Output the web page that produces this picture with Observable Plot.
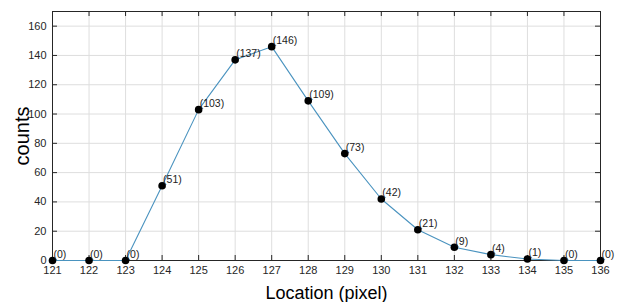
<!DOCTYPE html>
<html><head><meta charset="utf-8">
<script src="https://cdn.jsdelivr.net/npm/d3@7"></script>
<script src="https://cdn.jsdelivr.net/npm/@observablehq/plot@0.6"></script>
<style>
body{margin:0;background:#fff;}
svg{font-family:"Liberation Sans",Arial,sans-serif;}
g[aria-label="y-axis label"] text{font-size:20px;fill:#000;}
g[aria-label="x-axis label"] text{font-size:18px;fill:#000;}
</style>
</head><body>
<div id="chart"></div>
<script>
const locations = [121,122,123,124,125,126,127,128,129,130,131,132,133,134,135,136];
const counts = [0,0,0,51,103,137,146,109,73,42,21,9,4,1,0,0];
const xTicks = locations;
const yTicks = [0,20,40,60,80,100,120,140,160];

const data = locations.map((x,i)=>({x, y: counts[i]}));
const plotH = 302-11-42, plotW = 627-52-27;
const tyLen = 170*5/plotH, txLen = 15*5/plotW;

const chart = Plot.plot({
  width: 627, height: 302,
  marginLeft: 52, marginRight: 27, marginTop: 11, marginBottom: 42,
  style: {background:"#fff", fontSize:"11px", color:"#262626"},
  x: {domain:[121,136]},
  y: {domain:[0,170]},
  marks: [
    Plot.ruleX(xTicks, {x: d=>d, y1:0, y2:170, stroke:"#dedede", strokeWidth:1, strokeOpacity:1}),
    Plot.ruleY(yTicks, {y: d=>d, x1:121, x2:136, stroke:"#dedede", strokeWidth:1, strokeOpacity:1}),
    Plot.frame({stroke:"#262626", strokeWidth:1}),
    Plot.ruleX(xTicks, {x: d=>d, y1:0, y2:tyLen, stroke:"#262626"}),
    Plot.ruleX(xTicks, {x: d=>d, y1:170-tyLen, y2:170, stroke:"#262626"}),
    Plot.ruleY(yTicks, {y: d=>d, x1:121, x2:121+txLen, stroke:"#262626"}),
    Plot.ruleY(yTicks, {y: d=>d, x1:136-txLen, x2:136, stroke:"#262626"}),
    Plot.axisX(xTicks, {tickSize:0, tickPadding:6, fontSize:11, label:"Location (pixel)", labelAnchor:"center", labelArrow:"none", labelOffset:38}),
    Plot.axisY(yTicks, {tickSize:0, tickPadding:6, fontSize:11, label:"counts", labelAnchor:"center", labelArrow:"none", labelOffset:38}),
    Plot.line(data, {x:"x", y:"y", stroke:"#4a93bf", strokeWidth:1.1}),
    Plot.dot(data, {x:"x", y:"y", r:3.8, fill:"#000", stroke:"none"}),
    Plot.text(data, {x:"x", y:"y", text: d=>`(${d.y})`, dx:1, dy:-6, textAnchor:"start", fontSize:10.5, fill:"#222"})
  ]
});
document.getElementById("chart").appendChild(chart);
</script>
</body></html>
